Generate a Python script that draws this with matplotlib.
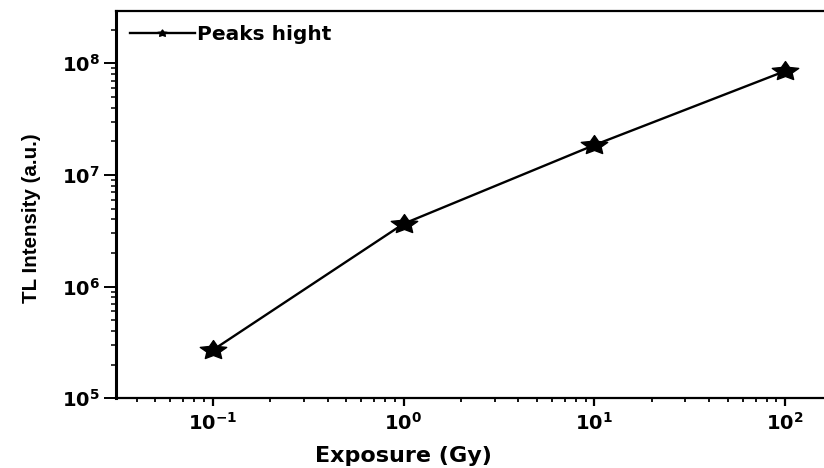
import numpy as np
import matplotlib
matplotlib.use("Agg")
import matplotlib.pyplot as plt
from matplotlib.path import Path
from matplotlib.ticker import LogLocator, FuncFormatter, NullFormatter

#fonts: wide bold sans for horizontal text
plt.rcParams['font.family'] = ['DejaVu Sans']
plt.rcParams['font.weight'] = 'bold'
plt.rcParams['mathtext.fontset'] = 'dejavusans'

#data
exposure = [0.1, 1.0, 10.0, 100.0]
intensity = [2.7e5, 3.65e6, 1.85e7, 8.5e7]
series_label = "Peaks hight"

#star marker, a bit wider than tall as in the original
star = Path.unit_regular_star(5)
wide_star = Path(star.vertices * np.array([1.4, 1.0]), star.codes)

fig = plt.figure(figsize=(8.24, 4.68), dpi=100)
ax = fig.add_axes([0.1408, 0.149, 0.8592, 0.8276])

ax.plot(exposure, intensity, 'k-', lw=1.7, marker=wide_star, ms=19, label=series_label)
ax.set_xscale('log')
ax.set_yscale('log')
ax.set_xlim(10**-1.507, 10**2.204)
ax.set_ylim(1e5, 10**8.468)

#spines: left, bottom, top (right side cropped off)
ax.spines['right'].set_visible(False)
ax.spines['left'].set_linewidth(2.2)
ax.spines['bottom'].set_linewidth(1.6)
ax.spines['top'].set_linewidth(1.6)

ax.xaxis.set_major_locator(LogLocator(base=10, numticks=10))
ax.xaxis.set_minor_locator(LogLocator(base=10, subs=np.arange(2, 10), numticks=20))
ax.yaxis.set_major_locator(LogLocator(base=10, numticks=10))
ax.yaxis.set_minor_locator(LogLocator(base=10, subs=np.arange(2, 10), numticks=20))
fmt = FuncFormatter(lambda v, p: r'$\mathbf{10^{%d}}$' % int(round(np.log10(v))))
ax.xaxis.set_major_formatter(fmt)
ax.yaxis.set_major_formatter(fmt)
ax.xaxis.set_minor_formatter(NullFormatter())
ax.yaxis.set_minor_formatter(NullFormatter())
ax.tick_params(axis='x', which='major', direction='out', length=6, width=1.6, labelsize=14, pad=4)
ax.tick_params(axis='x', which='minor', direction='out', length=3.2, width=1.3)
ax.tick_params(axis='y', which='major', direction='out', length=8.6, width=1.4, labelsize=14, pad=3)
ax.tick_params(axis='y', which='minor', direction='out', length=3.6, width=1.1)
ax.tick_params(top=False, right=False)

ax.set_xlabel("Exposure (Gy)", fontsize=16, fontweight='bold')
ax.xaxis.set_label_coords(0.406, -0.122)
ax.set_ylabel("TL Intensity (a.u.)", fontsize=14.8, fontweight='bold',
              family=['Liberation Sans', 'DejaVu Sans'])
ax.yaxis.set_label_coords(-0.106, 0.465)

leg = ax.legend(loc='upper left', frameon=False, fontsize=14.5, markerscale=0.35,
                handlelength=3.2, handletextpad=0.1, borderaxespad=0.3)
for t in leg.get_texts():
  t.set_fontweight('bold')

fig.savefig("out.png", dpi=100)
